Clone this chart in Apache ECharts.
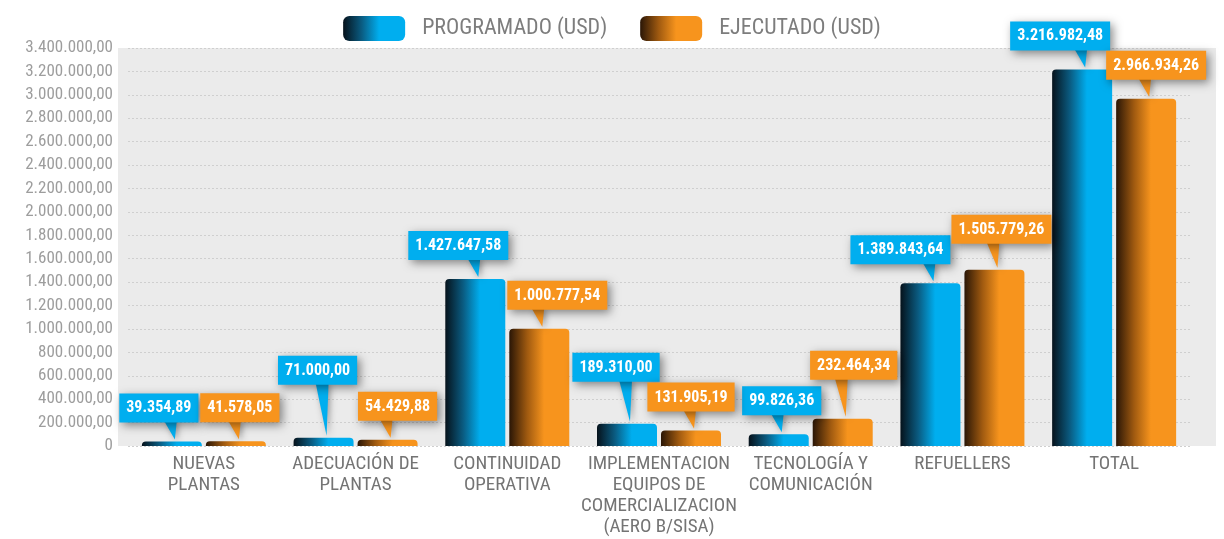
<!DOCTYPE html>
<html>
<head>
<meta charset="utf-8">
<script src="https://cdn.jsdelivr.net/npm/echarts@6/dist/echarts.min.js"></script>
<style>
  html, body { margin: 0; padding: 0; background: #fff; }
  #container { width: 1224px; height: 539px; }
</style>
</head>
<body>
<div id="container"></div>
<script>
var categories = [
    'NUEVAS\nPLANTAS',
    'ADECUACIÓN DE\nPLANTAS',
    'CONTINUIDAD\nOPERATIVA',
    'IMPLEMENTACION\nEQUIPOS DE\nCOMERCIALIZACION\n(AERO B/SISA)',
    'TECNOLOGÍA Y\nCOMUNICACIÓN',
    'REFUELLERS',
    'TOTAL'
];
var programado = [39354.89, 71000.00, 1427647.58, 189310.00, 99826.36, 1389843.64, 3216982.48];
var ejecutado = [41578.05, 54429.88, 1000777.54, 131905.19, 232464.34, 1505779.26, 2966934.26];

// callout placement tweaks (px): extra lift and sideways shift of each box
var liftProg = [0, 34, 0, 23, 0, 0, 0];
var liftEjec = [0, 0, 0, 0, 20, 7, 0];
var shiftProg = [-13, -6, -17, -11, 3, -30, -22];
var shiftEjec = [4, 10, 18, 0, 11, 7, 10];

// Roboto with font-stretch condensed -> Roboto Condensed face
var FONT = 'Roboto, sans-serif';
var BLUE = '#00aeef';
var ORANGE = '#f7941d';
var BAR_W = 60;
var BAR_GAP = 4;

function fmt(v) {
    var parts = v.toFixed(2).split('.');
    var intPart = parts[0].replace(/\B(?=(\d{3})+(?!\d))/g, '.');
    return intPart + ',' + parts[1];
}

function barGrad(dark, mid, light) {
    return new echarts.graphic.LinearGradient(0, 0, 1, 0, [
        { offset: 0, color: dark },
        { offset: 0.3, color: mid },
        { offset: 0.58, color: light },
        { offset: 1, color: light }
    ]);
}

function callout(values, side, color, shift, lift) {
    return {
        type: 'custom',
        z: 5,
        silent: true,
        data: values.map(function (v, i) { return [i, v]; }),
        renderItem: function (params, api) {
            var i = api.value(0);
            var p = api.coord([i, api.value(1)]);
            var bx = p[0] + side * (BAR_W + BAR_GAP) / 2;
            var tip = p[1] - 2;
            var bottom = p[1] - 19 - lift[i];
            var px = bx + 2;
            return {
                type: 'group',
                children: [{
                    type: 'polygon',
                    shape: { points: [[px - 10, bottom - 2], [px + 3, bottom - 2], [px + 1, tip]] },
                    style: { fill: color, shadowBlur: 6, shadowColor: 'rgba(0,0,0,0.35)', shadowOffsetX: 2, shadowOffsetY: 2 }
                }, {
                    type: 'text',
                    x: bx + shift[i],
                    y: bottom,
                    style: {
                        text: fmt(values[i]),
                        fill: '#fff',
                        font: 'condensed bold 16px ' + FONT,
                        align: 'center',
                        verticalAlign: 'bottom',
                        backgroundColor: color,
                        padding: [7, 7, 6, 7],
                        shadowBlur: 10,
                        shadowColor: 'rgba(0,0,0,0.45)',
                        shadowOffsetX: 3,
                        shadowOffsetY: 3
                    }
                }]
            };
        }
    };
}

var chart = echarts.init(document.getElementById('container'));

var option = {
    animation: false,
    graphic: [{
        type: 'rect',
        z: -10,
        shape: { x: 118, y: 48, width: 1098, height: 398 },
        style: { fill: '#ebebeb' }
    }],
    legend: {
        top: 11,
        left: 'center',
        itemWidth: 62,
        itemHeight: 25,
        itemGap: 33,
        icon: 'roundRect',
        textStyle: { color: '#7d7d7d', fontSize: 22, fontStyle: 'condensed', fontFamily: FONT, padding: [0, 0, 0, 12] },
        data: ['PROGRAMADO (USD)', 'EJECUTADO (USD)']
    },
    grid: { left: 128, right: 34, top: 48, bottom: 93, outerBoundsMode: 'none', containLabel: false },
    xAxis: {
        type: 'category',
        data: categories,
        axisLine: { show: false },
        axisTick: { show: false },
        axisLabel: {
            color: '#747474',
            fontSize: 19,
            fontStyle: 'condensed',
            fontFamily: FONT,
            lineHeight: 21,
            margin: 8,
            interval: 0
        }
    },
    yAxis: {
        type: 'value',
        min: 0,
        max: 3400000,
        interval: 200000,
        axisLine: { show: false },
        axisTick: { show: false },
        axisLabel: {
            color: '#9d9d9d',
            fontSize: 17,
            fontStyle: 'condensed',
            fontFamily: FONT,
            margin: 15,
            formatter: function (v) { return v === 0 ? '0' : fmt(v); }
        },
        splitLine: { lineStyle: { color: '#cfcfcf', type: [2, 2] } }
    },
    series: [{
        name: 'PROGRAMADO (USD)',
        type: 'bar',
        data: programado,
        barWidth: BAR_W,
        barGap: (BAR_GAP / BAR_W * 100) + '%',
        itemStyle: {
            color: barGrad('#06121b', '#0a5c82', BLUE),
            borderRadius: [4, 4, 0, 0]
        }
    }, {
        name: 'EJECUTADO (USD)',
        type: 'bar',
        data: ejecutado,
        barWidth: BAR_W,
        itemStyle: {
            color: barGrad('#2a1606', '#a05a10', ORANGE),
            borderRadius: [4, 4, 0, 0]
        }
    },
    callout(programado, -1, BLUE, shiftProg, liftProg),
    callout(ejecutado, 1, ORANGE, shiftEjec, liftEjec)
    ]
};

chart.setOption(option);
</script>
</body>
</html>
